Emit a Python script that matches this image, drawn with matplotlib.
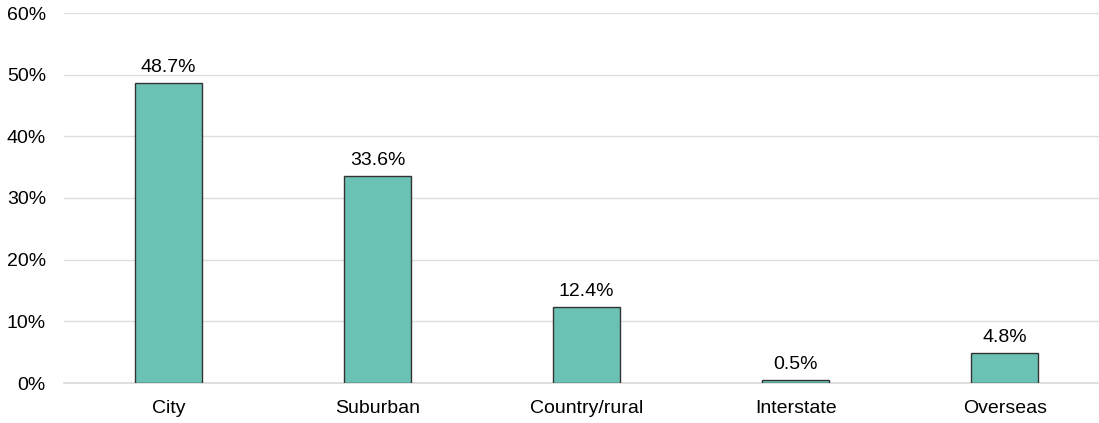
import numpy as np
import matplotlib.pyplot as plt
from matplotlib.ticker import FuncFormatter

# Share of respondents by location
categories = ['City', 'Suburban', 'Country/rural', 'Interstate', 'Overseas']
shares = [48.7, 33.6, 12.4, 0.5, 4.8]
yticks = [0, 10, 20, 30, 40, 50, 60]

plt.rcParams['font.family'] = ['Liberation Sans', 'DejaVu Sans']

fig = plt.figure(figsize=(10.99, 4.23), dpi=100)
ax = fig.add_axes([64 / 1099, 1 - 383 / 423, 1 - 64 / 1099, 370 / 423])

x = np.arange(len(categories))
bars = ax.bar(x, shares, width=0.32, color='#6AC1B4', edgecolor='#333333',
              linewidth=1, zorder=3)
ax.bar_label(bars, labels=['{:.1f}%'.format(v) for v in shares],
             padding=5, fontsize=14)

ax.set_xlim(-0.5, 4.45)
ax.set_ylim(0, 60)
ax.set_yticks(yticks)
ax.yaxis.set_major_formatter(FuncFormatter(lambda v, p: '{:.0f}%'.format(v)))
ax.set_xticks(x)
ax.set_xticklabels(categories)
ax.tick_params(axis='both', length=0, labelsize=14)
ax.tick_params(axis='y', pad=13)
ax.tick_params(axis='x', pad=12)

ax.grid(True, axis='y', color='#DDDDDD', linewidth=1, zorder=0)
# baseline drawn unclipped so it isn't cut in half at the axes edge
ax.axhline(0, color='#D9D9D9', linewidth=1.2, zorder=2, clip_on=False)
for s in ax.spines.values():
    s.set_visible(False)

fig.savefig('out.png', dpi=100)
